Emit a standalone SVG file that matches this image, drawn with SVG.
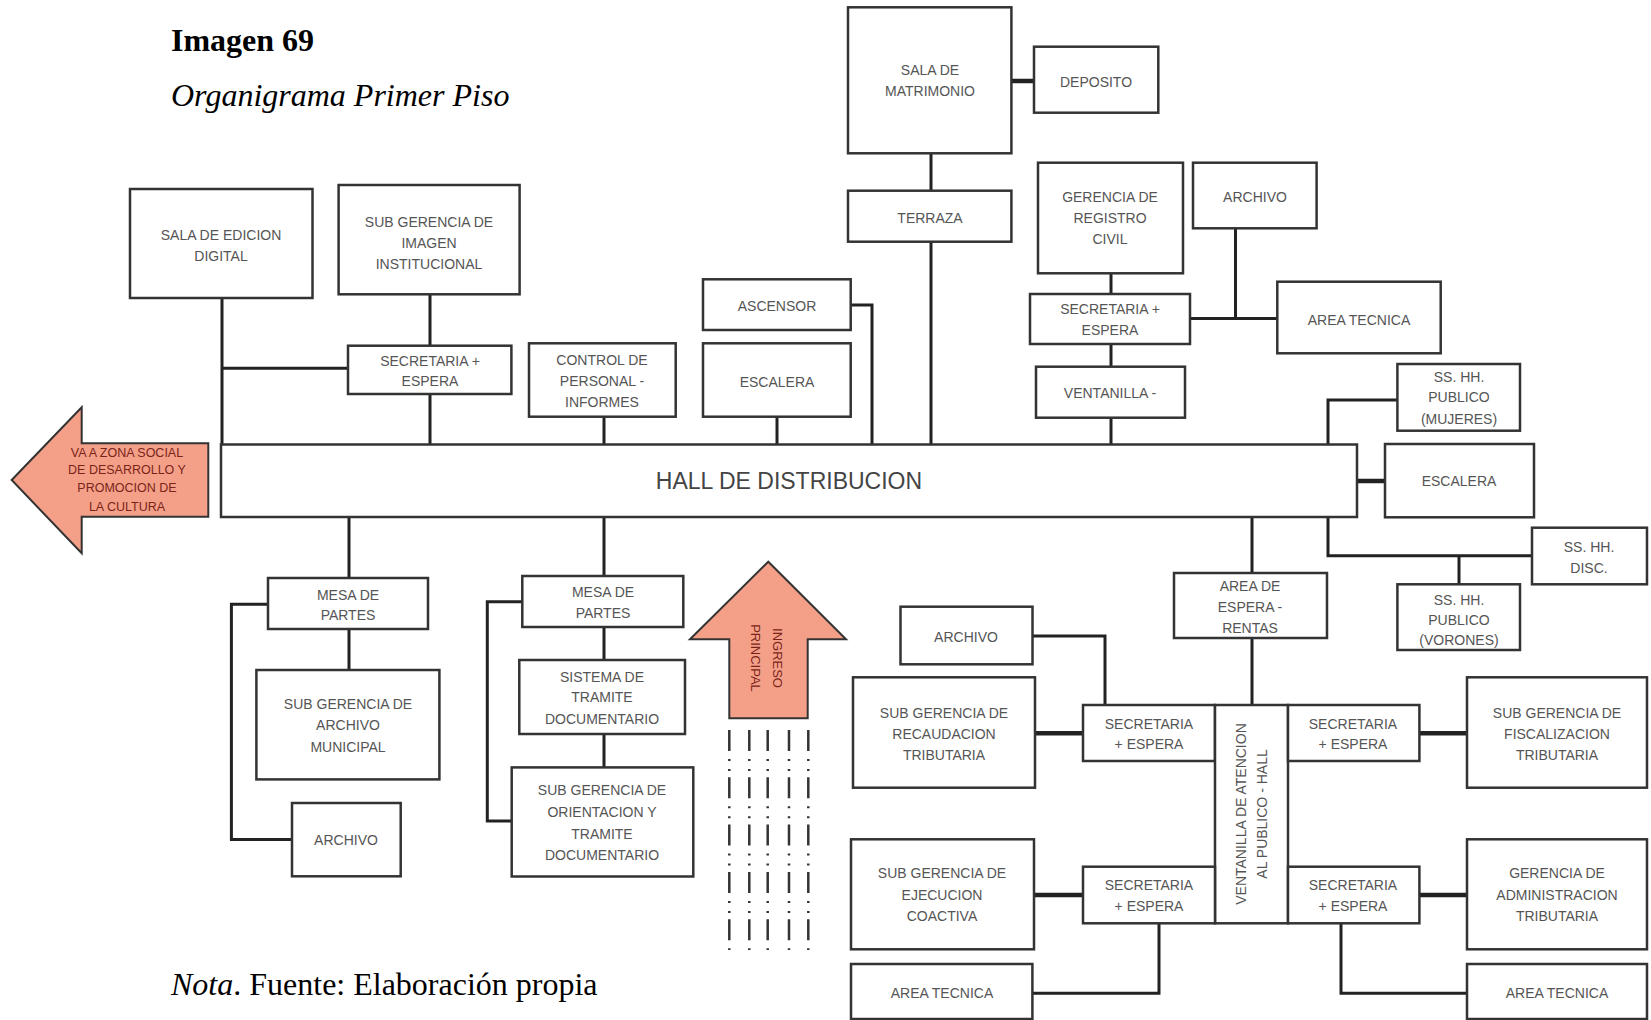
<svg xmlns="http://www.w3.org/2000/svg" width="1651" height="1020" viewBox="0 0 1651 1020">
<style>
.box{fill:#fff;stroke:#333;stroke-width:2.5}
.ln{fill:none;stroke:#222;stroke-width:3}
.th{fill:none;stroke:#222;stroke-width:4.5}
.dl{fill:none;stroke:#333;stroke-width:2.5;stroke-dasharray:21 8 2 8 2 6.3}
.lb{font-family:"Liberation Sans",Arial,sans-serif;font-size:14px;fill:#555;text-anchor:middle}
.hall{font-family:"Liberation Sans",Arial,sans-serif;font-size:23px;fill:#444;text-anchor:middle}
.arw{fill:#F4A088;stroke:#333;stroke-width:2}
.at{font-family:"Liberation Sans",Arial,sans-serif;font-size:12.5px;fill:#7a2418;text-anchor:middle}
.at2{font-family:"Liberation Sans",Arial,sans-serif;font-size:13px;fill:#7a2418;text-anchor:middle}
.tt{font-family:"Liberation Serif","Times New Roman",serif;font-size:32px;fill:#000}
</style>
<rect width="1651" height="1020" fill="#fff"/>
<text class="tt" x="171" y="51" font-weight="bold">Imagen 69</text>
<text class="tt" x="171" y="106" font-style="italic">Organigrama Primer Piso</text>
<text class="tt" x="171" y="995"><tspan font-style="italic">Nota</tspan>. Fuente: Elaboración propia</text>

<g id="connectors">
<path class="ln" d="M222,298V444.5M222,368.3H348"/>
<path class="ln" d="M430,294.3V345.7M430,394V444.5"/>
<path class="ln" d="M604,416.7V444.5"/>
<path class="ln" d="M777,416.7V444.5"/>
<path class="ln" d="M850.7,305H872V444.5"/>
<path class="ln" d="M931,153.3V190.7M931,241.7V444.5"/>
<path class="th" d="M1011.4,81H1034"/>
<path class="ln" d="M1111,273.3V294M1111,344V366.7M1111,417.7V444.5"/>
<path class="ln" d="M1190,318.5H1277.3M1235.5,228.3V318.5"/>
<path class="ln" d="M1397.4,400H1328V444.5"/>
<path class="th" d="M1357,481H1385"/>
<path class="ln" d="M1328,517V555.7H1532M1459,555.7V584.3"/>
<path class="ln" d="M1252,517V573M1252,638V705"/>
<path class="ln" d="M349,517V578M349,629V670"/>
<path class="ln" d="M268,604.3H231.4V839.5H292"/>
<path class="ln" d="M604,517V576M604,627V660M604,734V767.4"/>
<path class="ln" d="M522.3,601.7H487.3V821H511.7"/>
<path class="ln" d="M1032.4,636H1105V705"/>
<path class="th" d="M1035,733.3H1083M1419.4,733.3H1467"/>
<path class="th" d="M1034,895H1083M1419.4,895H1467"/>
<path class="ln" d="M1159,923.3V993.3H1032.4"/>
<path class="ln" d="M1341,923.3V993.3H1467"/>
<path class="dl" d="M729.3,730V950M749.3,730V950M767.7,730V950M789,730V950M808.3,730V950"/>
</g>

<g id="arrow-zona-social">
<polygon class="arw" points="11.7,480 81.7,407.3 81.7,443.3 208.3,443.3 208.3,516.7 81.7,516.7 81.7,553.3"/>
<text class="at" x="127" y="457">VA A ZONA SOCIAL</text>
<text class="at" x="127" y="474">DE DESARROLLO Y</text>
<text class="at" x="127" y="492">PROMOCION DE</text>
<text class="at" x="127" y="511">LA CULTURA</text>
</g>
<g id="arrow-ingreso">
<polygon class="arw" points="768.3,561.7 846,639.3 807.7,639.3 807.7,718.3 729.3,718.3 729.3,639.3 690,639.3"/>
<g transform="translate(767,658) rotate(90)">
<text class="at2" x="0" y="-6">INGRESO</text>
<text class="at2" x="0" y="16">PRINCIPAL</text>
</g>
</g>

<g id="hall"><rect class="box" x="221" y="444.5" width="1136" height="72.5"/><text class="hall" x="789" y="489">HALL DE DISTRIBUCION</text></g>

<g id="sala-edicion"><rect class="box" x="130" y="189" width="182.5" height="109"/><text class="lb" x="221" y="240">SALA DE EDICION</text><text class="lb" x="221" y="261">DIGITAL</text></g>
<g id="imagen"><rect class="box" x="338.6" y="185" width="181" height="109.3"/><text class="lb" x="429" y="227">SUB GERENCIA DE</text><text class="lb" x="429" y="248">IMAGEN</text><text class="lb" x="429" y="269">INSTITUCIONAL</text></g>
<g id="sec-imagen"><rect class="box" x="348" y="345.7" width="163.4" height="48.3"/><text class="lb" x="430" y="366">SECRETARIA +</text><text class="lb" x="430" y="386">ESPERA</text></g>
<g id="control"><rect class="box" x="529" y="343.3" width="146.7" height="73.4"/><text class="lb" x="602" y="365">CONTROL DE</text><text class="lb" x="602" y="386">PERSONAL -</text><text class="lb" x="602" y="407">INFORMES</text></g>
<g id="ascensor"><rect class="box" x="703" y="279.3" width="147.7" height="50.7"/><text class="lb" x="777" y="311">ASCENSOR</text></g>
<g id="escalera-top"><rect class="box" x="703" y="343.3" width="147.7" height="73.4"/><text class="lb" x="777" y="387">ESCALERA</text></g>
<g id="sala-matrimonio"><rect class="box" x="848" y="7.3" width="163.4" height="146"/><text class="lb" x="930" y="75">SALA DE</text><text class="lb" x="930" y="96">MATRIMONIO</text></g>
<g id="deposito"><rect class="box" x="1034" y="46.7" width="124.3" height="66"/><text class="lb" x="1096" y="87">DEPOSITO</text></g>
<g id="terraza"><rect class="box" x="848" y="190.7" width="163.4" height="51"/><text class="lb" x="930" y="223">TERRAZA</text></g>
<g id="registro"><rect class="box" x="1038" y="162.7" width="145" height="110.6"/><text class="lb" x="1110" y="202">GERENCIA DE</text><text class="lb" x="1110" y="223">REGISTRO</text><text class="lb" x="1110" y="244">CIVIL</text></g>
<g id="archivo-registro"><rect class="box" x="1193" y="162.7" width="123.6" height="65.6"/><text class="lb" x="1255" y="202">ARCHIVO</text></g>
<g id="sec-registro"><rect class="box" x="1030" y="294" width="160" height="50"/><text class="lb" x="1110" y="314">SECRETARIA +</text><text class="lb" x="1110" y="335">ESPERA</text></g>
<g id="area-tecnica-registro"><rect class="box" x="1277.3" y="281.7" width="163.4" height="71.6"/><text class="lb" x="1359" y="325">AREA TECNICA</text></g>
<g id="ventanilla-registro"><rect class="box" x="1036" y="366.7" width="149" height="51"/><text class="lb" x="1110" y="398">VENTANILLA -</text></g>
<g id="sshh-mujeres"><rect class="box" x="1397.4" y="364" width="122.6" height="66.7"/><text class="lb" x="1459" y="382">SS. HH.</text><text class="lb" x="1459" y="402">PUBLICO</text><text class="lb" x="1459" y="424">(MUJERES)</text></g>
<g id="escalera-der"><rect class="box" x="1385" y="444" width="149" height="73.3"/><text class="lb" x="1459" y="486">ESCALERA</text></g>
<g id="sshh-disc"><rect class="box" x="1532" y="527.7" width="115" height="56.6"/><text class="lb" x="1589" y="552">SS. HH.</text><text class="lb" x="1589" y="573">DISC.</text></g>
<g id="sshh-varones"><rect class="box" x="1397.4" y="584.3" width="122.6" height="65.7"/><text class="lb" x="1459" y="605">SS. HH.</text><text class="lb" x="1459" y="625">PUBLICO</text><text class="lb" x="1459" y="645">(VORONES)</text></g>
<g id="area-espera"><rect class="box" x="1174" y="573" width="153" height="65"/><text class="lb" x="1250" y="591">AREA DE</text><text class="lb" x="1250" y="612">ESPERA -</text><text class="lb" x="1250" y="633">RENTAS</text></g>

<g id="mesa-partes-1"><rect class="box" x="268" y="578" width="160" height="51"/><text class="lb" x="348" y="600">MESA DE</text><text class="lb" x="348" y="620">PARTES</text></g>
<g id="archivo-municipal"><rect class="box" x="256.4" y="670" width="183" height="109.4"/><text class="lb" x="348" y="709">SUB GERENCIA DE</text><text class="lb" x="348" y="730">ARCHIVO</text><text class="lb" x="348" y="752">MUNICIPAL</text></g>
<g id="archivo-1"><rect class="box" x="292" y="803" width="108.7" height="73.3"/><text class="lb" x="346" y="845">ARCHIVO</text></g>
<g id="mesa-partes-2"><rect class="box" x="522.3" y="576" width="161" height="51"/><text class="lb" x="603" y="597">MESA DE</text><text class="lb" x="603" y="618">PARTES</text></g>
<g id="sistema"><rect class="box" x="519.3" y="660" width="165.7" height="74"/><text class="lb" x="602" y="682">SISTEMA DE</text><text class="lb" x="602" y="702">TRAMITE</text><text class="lb" x="602" y="724">DOCUMENTARIO</text></g>
<g id="orientacion"><rect class="box" x="511.7" y="767.4" width="181.6" height="109.1"/><text class="lb" x="602" y="795">SUB GERENCIA DE</text><text class="lb" x="602" y="817">ORIENTACION Y</text><text class="lb" x="602" y="839">TRAMITE</text><text class="lb" x="602" y="860">DOCUMENTARIO</text></g>

<g id="archivo-rentas"><rect class="box" x="900.5" y="606.7" width="132" height="57.6"/><text class="lb" x="966" y="642">ARCHIVO</text></g>
<g id="recaudacion"><rect class="box" x="853" y="677.3" width="182" height="110.4"/><text class="lb" x="944" y="718">SUB GERENCIA DE</text><text class="lb" x="944" y="739">RECAUDACION</text><text class="lb" x="944" y="760">TRIBUTARIA</text></g>
<g id="sec-recaudacion"><rect class="box" x="1083" y="705" width="132" height="56"/><text class="lb" x="1149" y="729">SECRETARIA</text><text class="lb" x="1149" y="749">+ ESPERA</text></g>
<g id="ventanilla-atencion"><rect class="box" x="1215" y="705" width="73" height="218.3"/><g transform="translate(1252,814) rotate(-90)"><text class="lb" x="0" y="-6">VENTANILLA DE ATENCION</text><text class="lb" x="0" y="15">AL PUBLICO - HALL</text></g></g>
<g id="sec-fiscalizacion"><rect class="box" x="1288" y="705" width="131.4" height="56"/><text class="lb" x="1353" y="729">SECRETARIA</text><text class="lb" x="1353" y="749">+ ESPERA</text></g>
<g id="fiscalizacion"><rect class="box" x="1467" y="677.3" width="180" height="110.4"/><text class="lb" x="1557" y="718">SUB GERENCIA DE</text><text class="lb" x="1557" y="739">FISCALIZACION</text><text class="lb" x="1557" y="760">TRIBUTARIA</text></g>
<g id="ejecucion"><rect class="box" x="851" y="839.3" width="183" height="110"/><text class="lb" x="942" y="878">SUB GERENCIA DE</text><text class="lb" x="942" y="900">EJECUCION</text><text class="lb" x="942" y="921">COACTIVA</text></g>
<g id="sec-ejecucion"><rect class="box" x="1083" y="866.7" width="132" height="56.6"/><text class="lb" x="1149" y="890">SECRETARIA</text><text class="lb" x="1149" y="911">+ ESPERA</text></g>
<g id="sec-administracion"><rect class="box" x="1288" y="866.7" width="131.4" height="56.6"/><text class="lb" x="1353" y="890">SECRETARIA</text><text class="lb" x="1353" y="911">+ ESPERA</text></g>
<g id="administracion"><rect class="box" x="1467" y="839.3" width="180" height="110"/><text class="lb" x="1557" y="878">GERENCIA DE</text><text class="lb" x="1557" y="900">ADMINISTRACION</text><text class="lb" x="1557" y="921">TRIBUTARIA</text></g>
<g id="area-tecnica-ejecucion"><rect class="box" x="851" y="964" width="181.4" height="55"/><text class="lb" x="942" y="998">AREA TECNICA</text></g>
<g id="area-tecnica-administracion"><rect class="box" x="1467" y="964" width="180" height="55"/><text class="lb" x="1557" y="998">AREA TECNICA</text></g>
</svg>
